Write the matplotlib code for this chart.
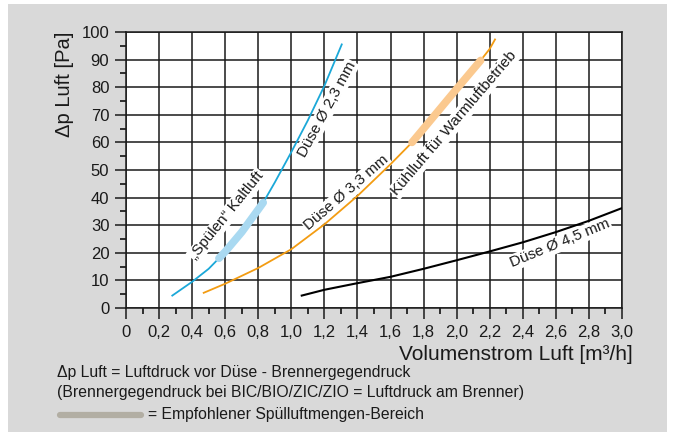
import numpy as np
import matplotlib
matplotlib.use("Agg")
import matplotlib.pyplot as plt
from matplotlib.patches import Rectangle
from matplotlib.lines import Line2D

plt.rcParams['font.family'] = ['Liberation Sans', 'DejaVu Sans']

# Düse Ø 2,3 mm (blue)
v_23 = [0.28, 0.4, 0.5, 0.562, 0.6, 0.7, 0.8, 0.83, 0.9, 1.0, 1.1, 1.2, 1.305]
p_23 = [4.5, 9.5, 14.2, 18.0, 20.4, 27.5, 35.7, 38.2, 45.5, 56.5, 68.0, 80.5, 95.5]
# recommended flushing range on the 2,3 mm curve
v_23_thick = [0.562, 0.6, 0.7, 0.8, 0.83]
p_23_thick = [18.0, 20.4, 27.5, 35.7, 38.2]

# Düse Ø 3,3 mm (orange)
v_33 = [0.47, 0.6, 0.8, 1.0, 1.2, 1.4, 1.6, 1.73, 1.8, 2.0, 2.145, 2.2, 2.232]
p_33 = [5.5, 8.8, 14.5, 21.3, 30.3, 40.6, 52.1, 60.0, 65.0, 79.4, 89.7, 93.9, 97.3]
v_33_thick = [1.73, 1.8, 2.0, 2.145]
p_33_thick = [60.0, 65.0, 79.4, 89.7]

# Düse Ø 4,5 mm (black)
v_45 = [1.063, 1.2, 1.4, 1.6, 1.8, 2.0, 2.2, 2.4, 2.6, 2.8, 3.0]
p_45 = [4.5, 6.6, 9.0, 11.3, 14.2, 17.3, 20.5, 23.8, 27.5, 31.6, 36.2]

x_ticks = [0, 0.2, 0.4, 0.6, 0.8, 1.0, 1.2, 1.4, 1.6, 1.8, 2.0, 2.2, 2.4, 2.6, 2.8, 3.0]
x_labels = ["0", "0,2", "0,4", "0,6", "0,8", "1,0", "1,2", "1,4", "1,6", "1,8",
            "2,0", "2,2", "2,4", "2,6", "2,8", "3,0"]
y_ticks = [0, 10, 20, 30, 40, 50, 60, 70, 80, 90, 100]

W, H = 674, 437
fig = plt.figure(figsize=(W / 100, H / 100), dpi=100)
fig.patch.set_facecolor("white")
fig.add_artist(Rectangle((8 / W, 1 - 432 / H), 659 / W, 428 / H,
                         transform=fig.transFigure, facecolor="#d9d9d9",
                         edgecolor="none", zorder=0))

ax = fig.add_axes([126 / W, 1 - 308 / H, 496 / W, 276 / H])
ax.set_facecolor("white")
ax.set_xlim(0, 3.0)
ax.set_ylim(0, 100)
ax.set_xticks(x_ticks)
ax.set_xticklabels(x_labels)
ax.set_yticks(y_ticks)
ax.set_xticks(np.arange(0.1, 3.0, 0.2), minor=True)
ax.set_yticks(np.arange(5, 100, 10), minor=True)
ax.tick_params(which="major", direction="out", length=8, width=1.1,
               labelsize=12, pad=4, colors="#1a1a1a")
ax.tick_params(which="minor", direction="out", length=4.5, width=1.1)
ax.grid(True, which="major", color="#1a1a1a", linewidth=1.1)
ax.set_axisbelow(True)
for s in ax.spines.values():
    s.set_linewidth(1.1)
    s.set_color("#1a1a1a")

blue = "#1ba8d8"
orange = "#f39c12"
ax.plot(v_23, p_23, color=blue, linewidth=1.3, zorder=4)
ax.plot(v_33, p_33, color=orange, linewidth=1.3, zorder=4)
ax.plot(v_45, p_45, color="black", linewidth=1.5, zorder=4)
ax.plot(v_23_thick, p_23_thick, color="#a9d9f1", linewidth=5.5,
        solid_capstyle="round", zorder=5)
ax.plot(v_33_thick, p_33_thick, color="#fbc98f", linewidth=5.5,
        solid_capstyle="round", zorder=5)

box = dict(facecolor="white", edgecolor="none", pad=1.0)
lab = dict(fontsize=11, ha="center", va="center", rotation_mode="anchor",
           bbox=box, zorder=3, color="#1a1a1a")
ax.text(1.214, 72.0, "Düse Ø 2,3 mm", rotation=61.5, **lab)
ax.text(0.612, 33.5, "„Spülen“ Kaltluft", rotation=51.0, **lab)
ax.text(1.335, 41.8, "Düse Ø 3,3 mm", rotation=40.9, **lab)
ax.text(1.985, 66.9, "Kühlluft für Warmluftbetrieb", rotation=49.5, **lab)
ax.text(2.625, 23.4, "Düse Ø 4,5 mm", rotation=22.4, **lab)

fig.text(633 / W, 1 - 355 / H, "Volumenstrom Luft [m³/h]", ha="right",
         va="center", fontsize=15, color="#1a1a1a")
fig.text(65 / W, 1 - 32 / H, "Δp Luft [Pa]", ha="center", va="top",
         rotation=90, fontsize=14.5, color="#1a1a1a")

fig.text(57 / W, 1 - 373 / H, "Δp Luft = Luftdruck vor Düse - Brennergegendruck",
         fontsize=11.3, va="center", color="#1a1a1a")
fig.text(57 / W, 1 - 393 / H,
         "(Brennergegendruck bei BIC/BIO/ZIC/ZIO = Luftdruck am Brenner)",
         fontsize=11.3, va="center", color="#1a1a1a")
fig.add_artist(Line2D([60 / W, 141 / W], [1 - 415 / H, 1 - 415 / H],
                      transform=fig.transFigure, color="#b2aea3",
                      linewidth=4.5, solid_capstyle="round"))
fig.text(148 / W, 1 - 414 / H, "= Empfohlener Spülluftmengen-Bereich",
         fontsize=11.3, va="center", color="#1a1a1a")

fig.savefig("out.png", dpi=100)
